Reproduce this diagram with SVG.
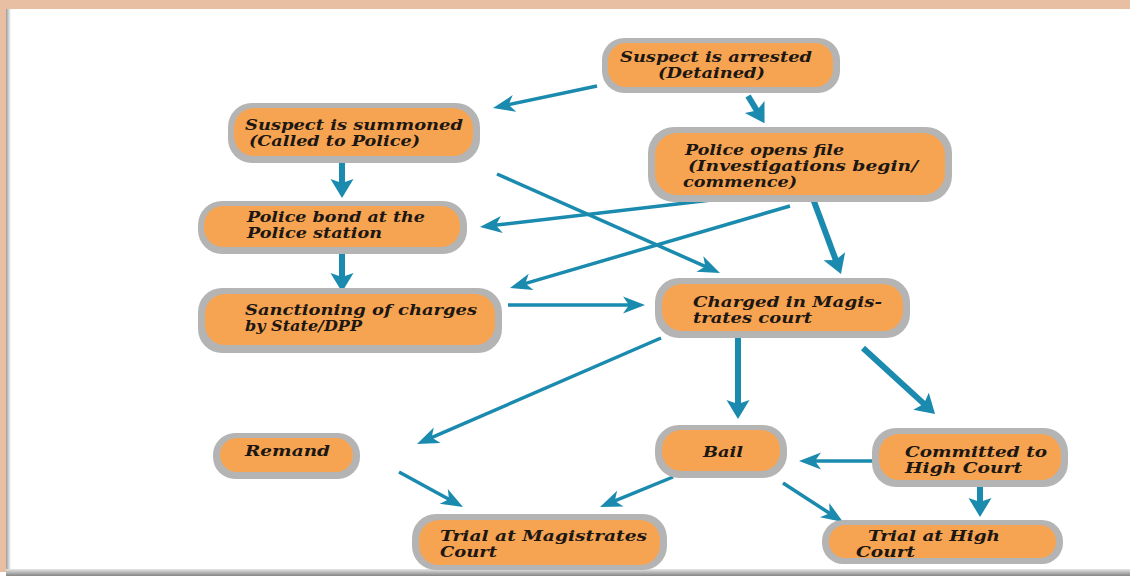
<svg xmlns="http://www.w3.org/2000/svg" width="1130" height="576" viewBox="0 0 1130 576">
<defs>
<style>
.outer{fill:#b4b4b4}
.inner{fill:#f7a452}
.t{font-family:"DejaVu Serif","Liberation Serif",serif;font-weight:bold;font-style:italic;font-size:15px;fill:#1c1712}
.thin{stroke:#1a8aae;stroke-width:3.5;fill:none;marker-end:url(#hThin)}
.thick{stroke:#1a8aae;stroke-width:6;fill:none;marker-end:url(#hThick)}
</style>
<marker id="hThin" viewBox="-24 -10 26 20" markerWidth="26" markerHeight="20" refX="-12" refY="0" markerUnits="userSpaceOnUse" orient="auto">
<path d="M0,0 L-22,-8.5 L-16,0 L-22,8.5 Z" fill="#1a8aae"/>
</marker>
<marker id="hThick" viewBox="-22 -13 24 26" markerWidth="24" markerHeight="26" refX="-12" refY="0" markerUnits="userSpaceOnUse" orient="auto">
<path d="M0,0 L-19,-11.5 L-15,0 L-19,11.5 Z" fill="#1a8aae"/>
</marker>
<linearGradient id="gLeft" x1="0" y1="0" x2="1" y2="0">
<stop offset="0" stop-color="#9c9c9c"/>
<stop offset="1" stop-color="#ffffff"/>
</linearGradient>
<linearGradient id="gBot" x1="0" y1="0" x2="0" y2="1">
<stop offset="0" stop-color="#e6e6e6"/>
<stop offset="1" stop-color="#858585"/>
</linearGradient>
</defs>

<g id="frame">
<rect x="0" y="0" width="1130" height="576" fill="#ffffff"/>
<rect x="0" y="0" width="1130" height="9" fill="#e8bfa3"/>
<rect x="0" y="0" width="6" height="572" fill="#e8bfa3"/>
<rect x="6" y="9" width="5" height="561" fill="url(#gLeft)"/>
<rect x="6" y="569" width="1124" height="7" fill="url(#gBot)"/>
</g>

<g id="connectors">
<line class="thin" x1="597" y1="86" x2="504.7" y2="105.5"/>
<line class="thick" x1="748" y1="96" x2="758.3" y2="113"/>
<line class="thick" x1="342" y1="160" x2="342" y2="186"/>
<line class="thick" x1="342" y1="254" x2="342" y2="280"/>
<line class="thin" x1="497" y1="174" x2="709" y2="268.1"/>
<line class="thin" x1="737" y1="197" x2="491.9" y2="225.6"/>
<line class="thin" x1="790" y1="206" x2="521.5" y2="284.6"/>
<line class="thick" x1="812" y1="196" x2="836.8" y2="262.7"/>
<line class="thin" x1="508" y1="305" x2="633" y2="305"/>
<line class="thin" x1="661" y1="338" x2="428" y2="439.2"/>
<line class="thick" x1="738" y1="338" x2="738" y2="407"/>
<line class="thick" x1="863" y1="348" x2="926.2" y2="405.9"/>
<line class="thin" x1="399" y1="472" x2="452.5" y2="501.2"/>
<line class="thin" x1="673" y1="477" x2="611.1" y2="502.4"/>
<line class="thin" x1="874" y1="461" x2="811" y2="461"/>
<line class="thin" x1="783" y1="483" x2="833" y2="515.5"/>
<line class="thick" x1="980" y1="486" x2="980" y2="505"/>
</g>

<g id="arrested">
<rect class="outer" x="602" y="38" width="238" height="55" rx="22"/>
<rect class="inner" x="608" y="43" width="225" height="44" rx="18"/>
<text class="t" x="620" y="62" textLength="192" lengthAdjust="spacingAndGlyphs">Suspect is arrested</text>
<text class="t" x="658" y="78" textLength="107" lengthAdjust="spacingAndGlyphs">(Detained)</text>
</g>

<g id="summoned">
<rect class="outer" x="228" y="103" width="252" height="60" rx="24"/>
<rect class="inner" x="234" y="108" width="239" height="48" rx="20"/>
<text class="t" x="245" y="130" textLength="218" lengthAdjust="spacingAndGlyphs">Suspect is summoned</text>
<text class="t" x="249" y="146" textLength="171" lengthAdjust="spacingAndGlyphs">(Called to Police)</text>
</g>

<g id="openfile">
<rect class="outer" x="648" y="127" width="304" height="75" rx="26"/>
<rect class="inner" x="655" y="133" width="290" height="62" rx="22"/>
<text class="t" x="685" y="155" textLength="159" lengthAdjust="spacingAndGlyphs">Police opens file</text>
<text class="t" x="688" y="171" textLength="230" lengthAdjust="spacingAndGlyphs">(Investigations begin/</text>
<text class="t" x="683" y="187" textLength="114" lengthAdjust="spacingAndGlyphs">commence)</text>
</g>

<g id="bond">
<rect class="outer" x="198" y="201" width="269" height="53" rx="24"/>
<rect class="inner" x="204" y="206" width="256" height="41" rx="19"/>
<text class="t" x="247" y="222" textLength="178" lengthAdjust="spacingAndGlyphs">Police bond at the</text>
<text class="t" x="247" y="238" textLength="135" lengthAdjust="spacingAndGlyphs">Police station</text>
</g>

<g id="sanctioning">
<rect class="outer" x="198" y="288" width="304" height="65" rx="24"/>
<rect class="inner" x="205" y="294" width="290" height="51" rx="20"/>
<text class="t" x="245" y="315" textLength="232" lengthAdjust="spacingAndGlyphs">Sanctioning of charges</text>
<text class="t" x="245" y="331" textLength="117" lengthAdjust="spacingAndGlyphs">by State/DPP</text>
</g>

<g id="charged">
<rect class="outer" x="655" y="278" width="255" height="60" rx="24"/>
<rect class="inner" x="662" y="284" width="241" height="47" rx="20"/>
<text class="t" x="693" y="307" textLength="189" lengthAdjust="spacingAndGlyphs">Charged in Magis-</text>
<text class="t" x="693" y="323" textLength="119" lengthAdjust="spacingAndGlyphs">trates court</text>
</g>

<g id="remand">
<rect class="outer" x="213" y="433" width="147" height="46" rx="22"/>
<rect class="inner" x="220" y="438" width="133" height="34" rx="17"/>
<text class="t" x="245" y="456" textLength="85" lengthAdjust="spacingAndGlyphs">Remand</text>
</g>

<g id="bail">
<rect class="outer" x="655" y="425" width="132" height="53" rx="24"/>
<rect class="inner" x="662" y="430" width="118" height="41" rx="19"/>
<text class="t" x="703" y="457" textLength="40" lengthAdjust="spacingAndGlyphs">Bail</text>
</g>

<g id="committed">
<rect class="outer" x="872" y="428" width="196" height="59" rx="24"/>
<rect class="inner" x="879" y="434" width="182" height="46" rx="20"/>
<text class="t" x="905" y="457" textLength="142" lengthAdjust="spacingAndGlyphs">Committed to</text>
<text class="t" x="905" y="473" textLength="117" lengthAdjust="spacingAndGlyphs">High Court</text>
</g>

<g id="trialmag">
<rect class="outer" x="412" y="514" width="255" height="56" rx="24"/>
<rect class="inner" x="419" y="520" width="241" height="45" rx="20"/>
<text class="t" x="440" y="541" textLength="207" lengthAdjust="spacingAndGlyphs">Trial at Magistrates</text>
<text class="t" x="440" y="557" textLength="57" lengthAdjust="spacingAndGlyphs">Court</text>
</g>

<g id="trialhigh">
<rect class="outer" x="822" y="520" width="241" height="44" rx="21"/>
<rect class="inner" x="829" y="525" width="227" height="33" rx="16"/>
<text class="t" x="868" y="541" textLength="132" lengthAdjust="spacingAndGlyphs">Trial at High</text>
<text class="t" x="856" y="557" textLength="59" lengthAdjust="spacingAndGlyphs">Court</text>
</g>
</svg>
